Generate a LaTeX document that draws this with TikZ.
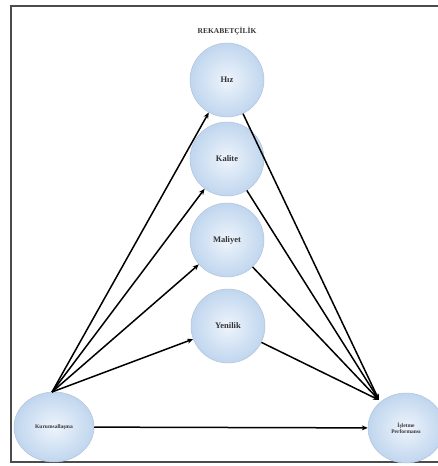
\documentclass[tikz,border=0pt]{standalone}
\usepackage{fontspec}
\setmainfont{Liberation Serif}
\usetikzlibrary{arrows.meta,shapes.geometric}
\begin{document}
\begin{tikzpicture}[x=1pt,y=-1pt,
  ball/.style={circle,minimum size=74pt,inner sep=0pt,draw={rgb,255:red,175;green,195;blue,220},line width=0.5pt,
    inner color={rgb,255:red,238;green,244;blue,252},outer color={rgb,255:red,192;green,214;blue,238},
    font=\fontsize{8.5}{9.5}\selectfont\bfseries,text=black!80,align=center},
  eball/.style={ball,ellipse,minimum width=80pt,minimum height=70pt,font=\fontsize{5.5}{6.5}\selectfont\bfseries},
  arr/.style={-{Stealth[length=6pt,width=5pt]},line width=1.5pt,black},
  frame/.style={line width=2pt,black!70}]
\useasboundingbox (0,0) rectangle (438,466);
\draw[frame] (438,6) -- (11,6) -- (11,462) -- (438,462);
\node[font=\fontsize{7.5}{8.5}\selectfont\bfseries,text=black!80] (t) at (227,31) {REKABETÇİLİK};
\node[ball] (h) at (227,80) {Hız};
\node[ball] (k) at (227,159) {Kalite};
\node[ball] (m) at (227,240) {Maliyet};
\node[ball] (y) at (228,326) {Yenilik};
\node[eball] (ku) at (54,427) {Kurumsallaşma};
\node[eball,minimum width=76pt] (ip) at (406,428) {İşletme\\Performansı};
\coordinate (src) at (52,392);
\coordinate (dst) at (379,400);
\foreach \n in {h,k,m,y}{
  \draw[arr] (src) -- (\n);
  \draw[arr] (\n) -- (dst);
}
\draw[arr] (ku) -- (ip);
\end{tikzpicture}
\end{document}
